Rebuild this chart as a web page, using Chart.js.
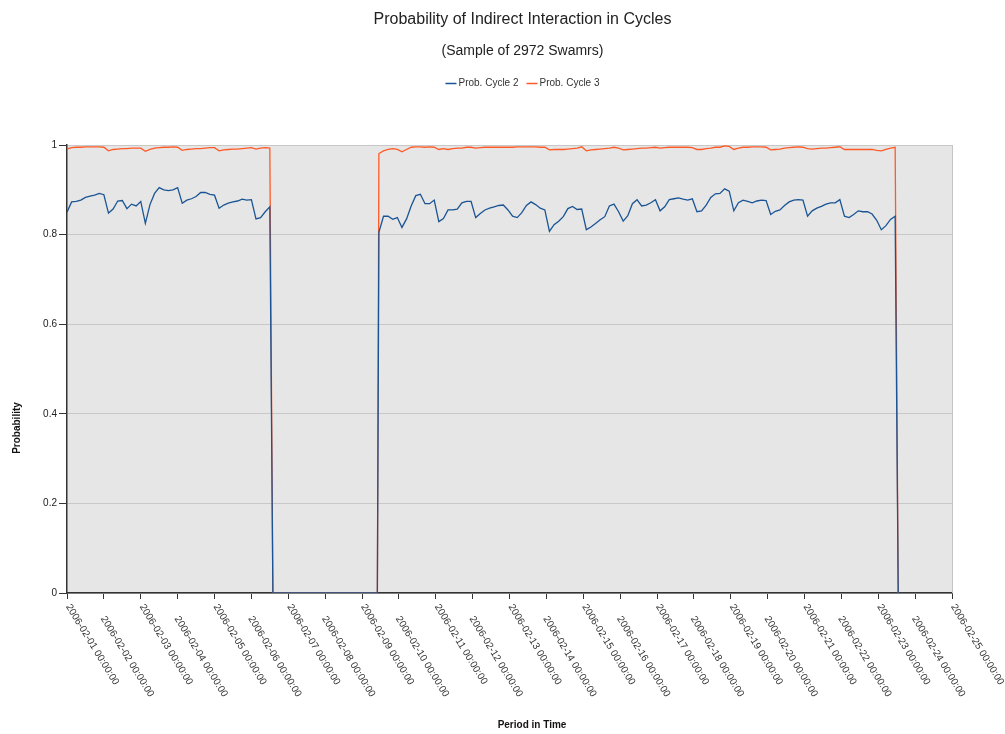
<!DOCTYPE html>
<html>
<head>
<meta charset="utf-8">
<script src="https://cdn.jsdelivr.net/npm/chart.js@4/dist/chart.umd.min.js"></script>
<style>
  html, body { margin: 0; padding: 0; background: #ffffff; }
  canvas { display: block; }
</style>
</head>
<body>
<canvas id="chart" width="1005" height="734"></canvas>
<script>
// Hours are counted from 2006-02-01 00:00:00.
const sampleStepHours = 3;
const block1StartHour = 0;
const block2StartHour = 203;
// Moments where no swarm was active (probability drops to zero).
const zeroHours = [134, 202, 541];

const dayLabels = [
  '2006-02-01 00:00:00', '2006-02-02 00:00:00', '2006-02-03 00:00:00', '2006-02-04 00:00:00',
  '2006-02-05 00:00:00', '2006-02-06 00:00:00', '2006-02-07 00:00:00', '2006-02-08 00:00:00',
  '2006-02-09 00:00:00', '2006-02-10 00:00:00', '2006-02-11 00:00:00', '2006-02-12 00:00:00',
  '2006-02-13 00:00:00', '2006-02-14 00:00:00', '2006-02-15 00:00:00', '2006-02-16 00:00:00',
  '2006-02-17 00:00:00', '2006-02-18 00:00:00', '2006-02-19 00:00:00', '2006-02-20 00:00:00',
  '2006-02-21 00:00:00', '2006-02-22 00:00:00', '2006-02-23 00:00:00', '2006-02-24 00:00:00',
  '2006-02-25 00:00:00'
];

const seriesNames = ['Prob. Cycle 2', 'Prob. Cycle 3'];

const cycle2Block1 = [
  0.850, 0.873, 0.874, 0.877, 0.883, 0.886, 0.888, 0.892, 0.889, 0.848,
  0.857, 0.875, 0.876, 0.858, 0.868, 0.864, 0.874, 0.825, 0.867, 0.892,
  0.905, 0.900, 0.898, 0.900, 0.905, 0.870, 0.877, 0.880, 0.885, 0.894,
  0.894, 0.890, 0.888, 0.859, 0.866, 0.870, 0.873, 0.875, 0.879, 0.877,
  0.878, 0.835, 0.838, 0.851, 0.862
];
const cycle2Block2 = [
  0.805, 0.841, 0.841, 0.834, 0.838, 0.816, 0.835, 0.864, 0.887, 0.890,
  0.869, 0.869, 0.877, 0.829, 0.836, 0.855, 0.855, 0.857, 0.871, 0.874,
  0.874, 0.838, 0.847, 0.855, 0.859, 0.862, 0.865, 0.866, 0.855, 0.841,
  0.838, 0.849, 0.865, 0.873, 0.867, 0.859, 0.855, 0.807, 0.822, 0.830,
  0.840, 0.858, 0.863, 0.856, 0.857, 0.811, 0.817, 0.825, 0.833, 0.840,
  0.864, 0.868, 0.851, 0.830, 0.842, 0.869, 0.878, 0.864, 0.866, 0.871,
  0.878, 0.853, 0.862, 0.878, 0.880, 0.882, 0.879, 0.877, 0.880, 0.851,
  0.853, 0.866, 0.883, 0.891, 0.892, 0.902, 0.897, 0.853, 0.871, 0.877,
  0.874, 0.871, 0.875, 0.877, 0.876, 0.845, 0.852, 0.855, 0.865, 0.873,
  0.877, 0.878, 0.877, 0.841, 0.853, 0.859, 0.863, 0.868, 0.871, 0.871,
  0.878, 0.841, 0.838, 0.845, 0.853, 0.851, 0.851, 0.846, 0.832, 0.811,
  0.820, 0.834, 0.841
];
const cycle3Block1 = [
  0.991, 0.994, 0.995, 0.995, 0.996, 0.996, 0.996, 0.996, 0.995, 0.987,
  0.990, 0.991, 0.992, 0.992, 0.993, 0.993, 0.993, 0.986, 0.990, 0.993,
  0.994, 0.995, 0.995, 0.996, 0.995, 0.988, 0.990, 0.991, 0.992, 0.992,
  0.993, 0.994, 0.994, 0.987, 0.989, 0.990, 0.991, 0.991, 0.992, 0.993,
  0.994, 0.991, 0.993, 0.994, 0.993
];
const cycle3Block2 = [
  0.981, 0.987, 0.990, 0.992, 0.990, 0.985, 0.990, 0.995, 0.996, 0.996,
  0.995, 0.996, 0.995, 0.990, 0.992, 0.990, 0.992, 0.993, 0.993, 0.995,
  0.995, 0.993, 0.994, 0.995, 0.995, 0.995, 0.995, 0.995, 0.995, 0.995,
  0.996, 0.996, 0.996, 0.996, 0.996, 0.995, 0.995, 0.989, 0.990, 0.990,
  0.990, 0.991, 0.992, 0.993, 0.996, 0.987, 0.989, 0.990, 0.991, 0.992,
  0.993, 0.995, 0.993, 0.989, 0.990, 0.991, 0.992, 0.993, 0.993, 0.994,
  0.995, 0.993, 0.994, 0.995, 0.995, 0.995, 0.995, 0.995, 0.994, 0.990,
  0.990, 0.992, 0.993, 0.995, 0.995, 0.998, 0.997, 0.990, 0.993, 0.995,
  0.995, 0.996, 0.996, 0.996, 0.995, 0.989, 0.990, 0.991, 0.993, 0.994,
  0.995, 0.996, 0.995, 0.992, 0.991, 0.992, 0.993, 0.993, 0.994, 0.995,
  0.996, 0.990, 0.990, 0.990, 0.990, 0.990, 0.990, 0.990, 0.988, 0.987,
  0.990, 0.993, 0.995
];

const seriesColors = ['#1a5494', '#ff5a26'];

function buildSeries(block1, block2) {
  const points = [];
  block1.forEach((v, i) => points.push({ x: block1StartHour + i * sampleStepHours, y: v }));
  block2.forEach((v, i) => points.push({ x: block2StartHour + i * sampleStepHours, y: v }));
  zeroHours.forEach(h => points.push({ x: h, y: 0 }));
  points.sort((a, b) => a.x - b.x);
  return points;
}

const FONT = "'Liberation Sans', Arial, Helvetica, sans-serif";
Chart.defaults.font.family = FONT;
Chart.defaults.color = '#333333';

// Grey plot background and right-hand frame edge.
const plotFrame = {
  id: 'plotFrame',
  beforeDraw(chart) {
    const { ctx, chartArea: a } = chart;
    ctx.save();
    ctx.fillStyle = '#e6e6e6';
    ctx.fillRect(a.left, a.top, a.right - a.left, a.bottom - a.top);
    ctx.restore();
  },
  beforeDatasetsDraw(chart) {
    const { ctx, chartArea: a } = chart;
    ctx.save();
    ctx.strokeStyle = '#c4c4c4';
    ctx.lineWidth = 1;
    ctx.beginPath();
    ctx.moveTo(Math.round(a.right) + 0.5, a.top);
    ctx.lineTo(Math.round(a.right) + 0.5, a.bottom);
    ctx.stroke();
    ctx.restore();
  }
};

// Slanted, staggered date labels, axis titles and the legend row.
const annotations = {
  id: 'annotations',
  afterDraw(chart) {
    const { ctx } = chart;
    const xs = chart.scales.x;
    const angle = 58.5 * Math.PI / 180;
    ctx.save();
    ctx.fillStyle = '#333333';
    ctx.font = '10px ' + FONT;
    ctx.textAlign = 'left';
    ctx.textBaseline = 'middle';
    xs.ticks.forEach((tick, i) => {
      const label = dayLabels[i];
      if (!label) return;
      const px = xs.getPixelForValue(tick.value);
      const odd = i % 2;
      ctx.save();
      ctx.translate(px + 1 - odd * 2, xs.top + 12 + odd * 12);
      ctx.rotate(angle);
      ctx.fillText(label, 0, 0);
      ctx.restore();
    });

    // axis titles
    ctx.font = 'bold 10px ' + FONT;
    ctx.fillStyle = '#111111';
    ctx.textAlign = 'center';
    ctx.textBaseline = 'middle';
    ctx.fillText('Period in Time', 532, 725);
    ctx.save();
    ctx.translate(17, 428);
    ctx.rotate(-Math.PI / 2);
    ctx.fillText('Probability', 0, 0);
    ctx.restore();

    // legend
    ctx.font = '10px ' + FONT;
    const sample = 11, gapText = 2, gapItem = 8;
    const items = chart.data.datasets.map(ds => ({
      text: ds.label, color: ds.borderColor, w: ctx.measureText(ds.label).width
    }));
    const total = items.reduce((s, it) => s + sample + gapText + it.w, 0) + gapItem * (items.length - 1);
    const pad = chart.options.layout.padding;
    const centerX = (pad.left + chart.width - pad.right) / 2;
    let x = centerX - total / 2;
    const y = 83;
    ctx.textAlign = 'left';
    ctx.textBaseline = 'middle';
    items.forEach(it => {
      ctx.strokeStyle = it.color;
      ctx.lineWidth = 1.5;
      ctx.beginPath();
      ctx.moveTo(x, y + 0.5);
      ctx.lineTo(x + sample, y + 0.5);
      ctx.stroke();
      ctx.fillStyle = '#333333';
      ctx.fillText(it.text, x + sample + gapText, y);
      x += sample + gapText + it.w + gapItem;
    });
    ctx.restore();
  }
};

new Chart(document.getElementById('chart'), {
  type: 'line',
  data: {
    datasets: [
      {
        label: seriesNames[0],
        data: buildSeries(cycle2Block1, cycle2Block2),
        borderColor: seriesColors[0],
        backgroundColor: seriesColors[0],
        borderWidth: 1.3,
        pointRadius: 0,
        tension: 0,
        fill: false
      },
      {
        label: seriesNames[1],
        data: buildSeries(cycle3Block1, cycle3Block2),
        borderColor: seriesColors[1],
        backgroundColor: seriesColors[1],
        borderWidth: 1.3,
        pointRadius: 0,
        tension: 0,
        fill: false
      }
    ]
  },
  options: {
    responsive: false,
    animation: false,
    events: [],
    layout: { padding: { left: 40, right: 0, top: 0, bottom: 0 } },
    plugins: {
      legend: { display: false },
      tooltip: { enabled: false },
      title: {
        display: true,
        text: 'Probability of Indirect Interaction in Cycles',
        color: '#222222',
        font: { size: 16, weight: 'normal' },
        padding: { top: 10, bottom: 8 }
      },
      subtitle: {
        display: true,
        text: '(Sample of 2972 Swamrs)',
        color: '#222222',
        font: { size: 14, weight: 'normal' },
        padding: { top: 6, bottom: 85 }
      }
    },
    scales: {
      x: {
        type: 'linear',
        min: 0,
        max: 576,
        ticks: { stepSize: 24, display: false },
        grid: {
          display: true,
          drawOnChartArea: false,
          drawTicks: true,
          tickLength: 6,
          tickColor: '#333333',
          color: 'rgba(0,0,0,0)'
        },
        border: { display: true, color: '#333333', width: 1.5 },
        afterFit(scale) {
          scale.height = 141;
          // room on the right so the last date label has space
          scale.paddingRight = 53;
        }
      },
      y: {
        min: 0,
        max: 1,
        ticks: {
          stepSize: 0.2,
          font: { size: 10 },
          color: '#222222',
          padding: 2,
          callback: v => String(Number(v.toFixed(1)))
        },
        grid: {
          color: '#c8c8c8',
          tickColor: '#333333',
          tickLength: 8,
          lineWidth: 1
        },
        border: { display: true, color: '#333333', width: 1.5 },
        afterFit(scale) { scale.width = 27; }
      }
    }
  },
  plugins: [plotFrame, annotations]
});
</script>
</body>
</html>
